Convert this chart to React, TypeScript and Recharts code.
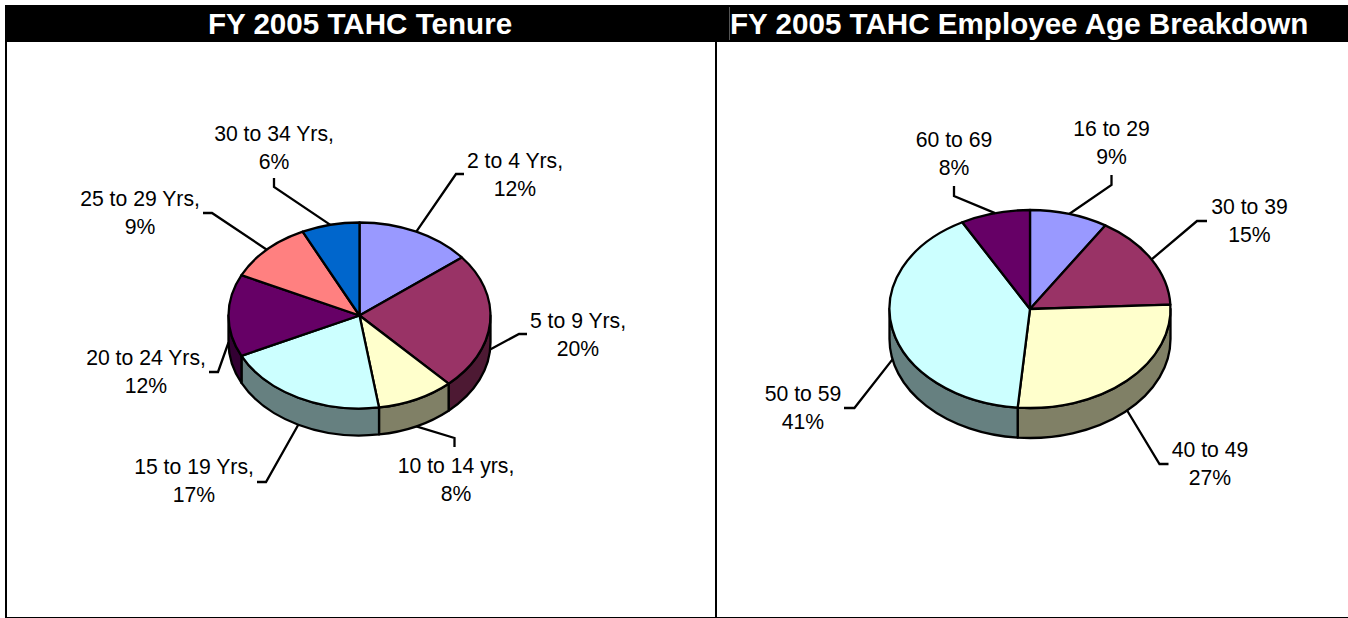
import { Pie, PieChart } from 'recharts';

const tenureCategories = ['2 to 4 Yrs', '5 to 9 Yrs', '10 to 14 yrs', '15 to 19 Yrs', '20 to 24 Yrs', '25 to 29 Yrs', '30 to 34 Yrs'];
const tenureValues = [12, 20, 8, 17, 12, 9, 6];
const ageCategories = ['16 to 29', '30 to 39', '40 to 49', '50 to 59', '60 to 69'];
const ageValues = [9, 15.3, 27.1, 40.6, 8];

const tenureFaces = ['#9999FF', '#993366', '#FFFFCC', '#CCFFFF', '#660066', '#FF8080', '#0066CC'];
const tenureWalls = ['#4D4D80', '#4D1933', '#808066', '#668080', '#330033', '#804040', '#003366'];
const ageFaces = ['#9999FF', '#993366', '#FFFFCC', '#CCFFFF', '#660066'];
const ageWalls = ['#4D4D80', '#4D1933', '#808066', '#668080', '#330033'];

// label placement: [elbow x, elbow y, tail x, tail y, text centre x, first line baseline y]
const tenureLabels = [
  [456, 174, 464, 174, 515, 168],
  [519, 334, 527, 334, 578, 328],
  [454.5, 438, 454.5, 447, 456, 473],
  [266, 482, 257, 482, 194, 474],
  [218, 372, 209, 372, 146, 365],
  [212, 213, 203, 213, 140, 206],
  [274, 187, 274, 178, 274, 141],
];
const ageLabels = [
  [1111.5, 185, 1111.5, 175, 1111.5, 136],
  [1197, 221, 1207, 221, 1249.5, 214],
  [1159.5, 464, 1168.5, 464, 1210, 457],
  [854.4, 408, 844, 408, 803, 401],
  [954, 196, 954, 186, 954, 147],
];

const LABEL_SIZE = 21.2;
const LINE_WIDTH = 2.3;
const RAD = Math.PI / 180;

const rows = (names: string[], values: number[], fills: string[]) =>
  names.map((name, i) => ({ name, value: values[i], fill: fills[i] }));

function EllipseFace(props: any) {
  const { cx, cy, outerRadius: rx, startAngle, endAngle, payload, flatten } = props;
  const ry = rx * flatten;
  const px = (a: number) => cx + rx * Math.cos(a * RAD);
  const py = (a: number) => cy - ry * Math.sin(a * RAD);
  const large = Math.abs(startAngle - endAngle) > 180 ? 1 : 0;
  const d = `M${cx},${cy}L${px(startAngle)},${py(startAngle)}A${rx},${ry} 0 ${large} 1 ${px(endAngle)},${py(endAngle)}Z`;
  return <path d={d} fill={payload.fill} stroke="#000" strokeWidth={LINE_WIDTH} strokeLinejoin="round" />;
}

function EllipseWall(props: any) {
  const { cx, cy, outerRadius: rx, startAngle, endAngle, payload, flatten, depth } = props;
  const ry = rx * flatten;
  // only the front half of the rim can be seen
  const from = Math.min(startAngle, 0);
  const to = Math.max(endAngle, -180);
  if (from <= to) return null;
  const px = (a: number) => cx + rx * Math.cos(a * RAD);
  const py = (a: number) => cy - ry * Math.sin(a * RAD);
  const d =
    `M${px(from)},${py(from)}A${rx},${ry} 0 0 1 ${px(to)},${py(to)}` +
    `L${px(to)},${py(to) + depth}A${rx},${ry} 0 0 0 ${px(from)},${py(from) + depth}Z`;
  return <path d={d} fill={payload.fill} stroke="#000" strokeWidth={LINE_WIDTH} strokeLinejoin="round" />;
}

function makeLabel(layout: number[][], flatten: number, depth: number, comma: string) {
  return function LeaderLabel(props: any) {
    const { cx, cy, outerRadius: rx, midAngle, index, name, value } = props;
    const [ex, ey, tx, ty, lx, ly] = layout[index];
    const sx = cx + rx * Math.cos(midAngle * RAD);
    const sin = Math.sin(midAngle * RAD);
    const sy = cy - rx * flatten * sin + (sin < 0.05 ? depth : 0);
    return (
      <g>
        <polyline points={`${sx},${sy} ${ex},${ey} ${tx},${ty}`} fill="none" stroke="#000" strokeWidth={LINE_WIDTH} />
        <text x={lx} y={ly} textAnchor="middle" fontSize={LABEL_SIZE} fontFamily="Liberation Sans" fill="#000">
          {name + comma}
        </text>
        <text x={lx} y={ly + 27.5} textAnchor="middle" fontSize={LABEL_SIZE} fontFamily="Liberation Sans" fill="#000">
          {Math.round(value)}%
        </text>
      </g>
    );
  };
}

const titleStyle: React.CSSProperties = {
  position: 'absolute',
  top: 5,
  height: 37,
  lineHeight: '37px',
  color: '#fff',
  fontFamily: 'Liberation Sans',
  fontWeight: 700,
  fontSize: 29.6,
  whiteSpace: 'nowrap',
};

export default function App() {
  const leftFlat = 93 / 131;
  const rightFlat = 99 / 140.5;
  return (
    <div style={{ position: 'fixed', left: 0, top: 0, width: 1348, height: 618, background: '#fff', overflow: 'hidden' }}>
      <div style={{ position: 'absolute', left: 5, top: 5, width: 1343, height: 37, background: '#000' }} />
      <div style={{ position: 'absolute', left: 729, top: 7, width: 1, height: 33, background: '#555' }} />
      <div style={{ ...titleStyle, left: 5, width: 710, textAlign: 'center' }}>FY 2005 TAHC Tenure</div>
      <div style={{ ...titleStyle, left: 730 }}>FY 2005 TAHC Employee Age Breakdown</div>
      <div style={{ position: 'absolute', left: 4.5, top: 42, width: 2, height: 576, background: '#000' }} />
      <div style={{ position: 'absolute', left: 714.5, top: 42, width: 2, height: 576, background: '#000' }} />
      <div style={{ position: 'absolute', left: 5, top: 617, width: 1343, height: 1.5, background: '#000' }} />
      <div style={{ position: 'absolute', left: 0, top: 0 }}>
        <PieChart width={1348} height={618} margin={{ top: 0, right: 0, bottom: 0, left: 0 }}>
          <Pie
            data={rows(tenureCategories, tenureValues, tenureWalls)}
            dataKey="value"
            nameKey="name"
            cx={359.5}
            cy={315.5}
            outerRadius={131}
            startAngle={90}
            endAngle={-270}
            isAnimationActive={false}
            shape={(p: any) => <EllipseWall {...p} flatten={leftFlat} depth={27} />}
          />
          <Pie
            data={rows(tenureCategories, tenureValues, tenureFaces)}
            dataKey="value"
            nameKey="name"
            cx={359.5}
            cy={315.5}
            outerRadius={131}
            startAngle={90}
            endAngle={-270}
            isAnimationActive={false}
            labelLine={false}
            label={makeLabel(tenureLabels, leftFlat, 27, ',')}
            shape={(p: any) => <EllipseFace {...p} flatten={leftFlat} />}
          />
          <Pie
            data={rows(ageCategories, ageValues, ageWalls)}
            dataKey="value"
            nameKey="name"
            cx={1030}
            cy={309}
            outerRadius={140.5}
            startAngle={90}
            endAngle={-270}
            isAnimationActive={false}
            shape={(p: any) => <EllipseWall {...p} flatten={rightFlat} depth={30} />}
          />
          <Pie
            data={rows(ageCategories, ageValues, ageFaces)}
            dataKey="value"
            nameKey="name"
            cx={1030}
            cy={309}
            outerRadius={140.5}
            startAngle={90}
            endAngle={-270}
            isAnimationActive={false}
            labelLine={false}
            label={makeLabel(ageLabels, rightFlat, 30, '')}
            shape={(p: any) => <EllipseFace {...p} flatten={rightFlat} />}
          />
        </PieChart>
      </div>
    </div>
  );
}
